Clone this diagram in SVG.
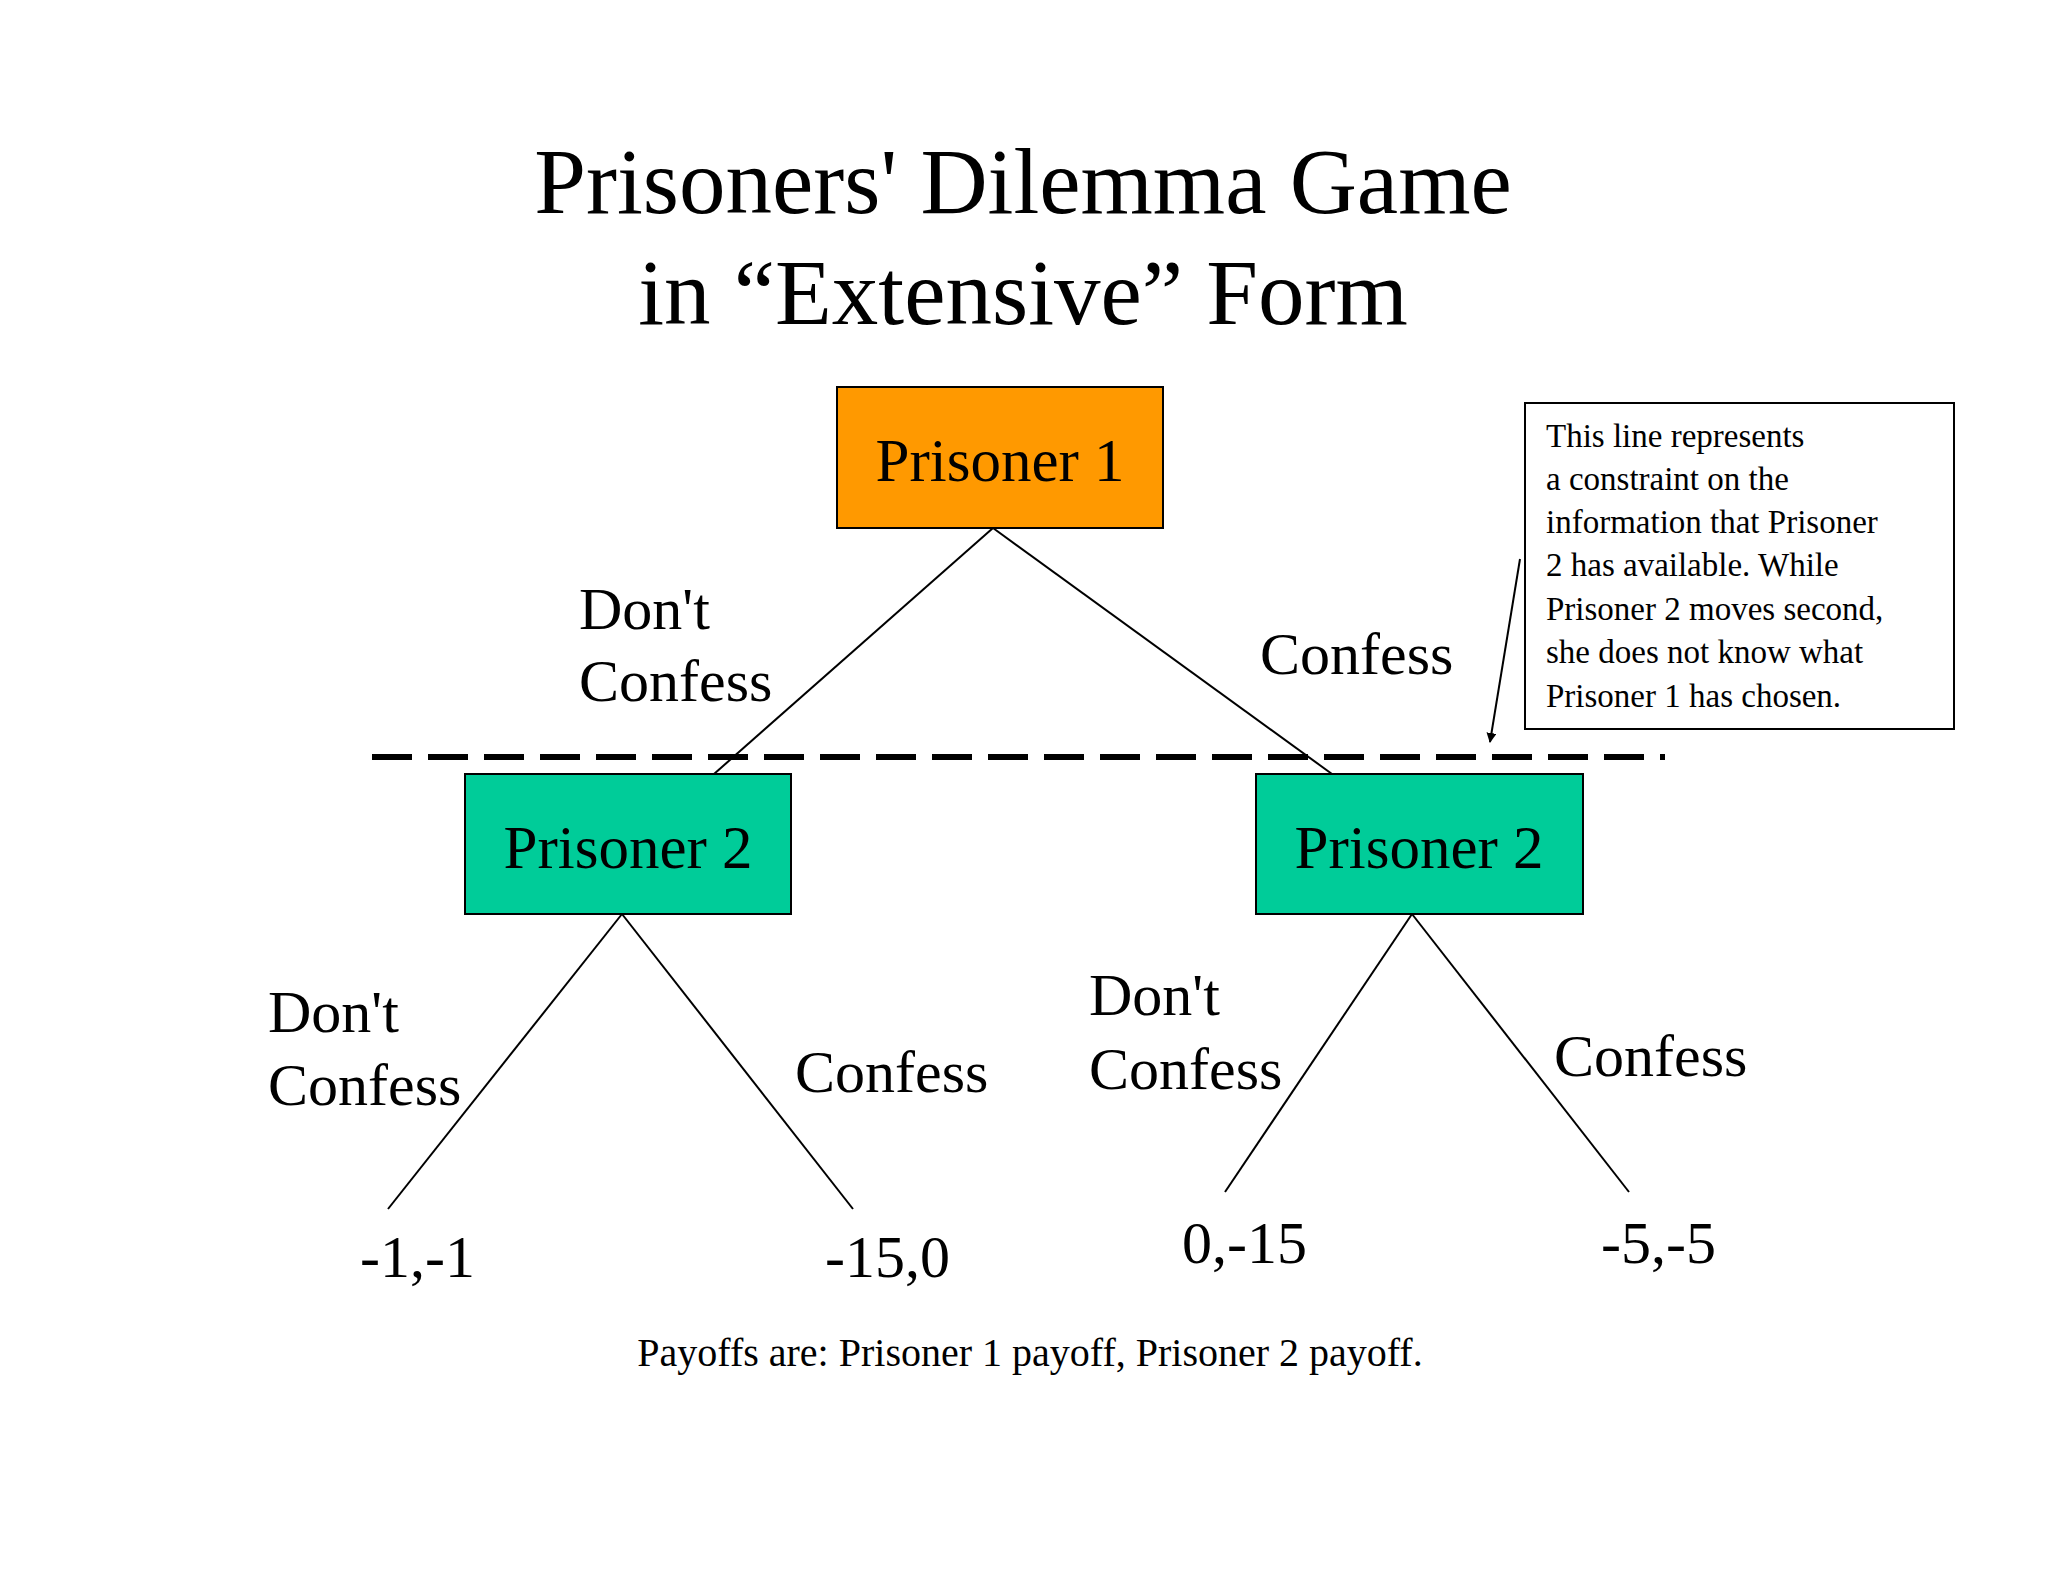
<svg xmlns="http://www.w3.org/2000/svg" width="2048" height="1582" viewBox="0 0 2048 1582">
<style>
text{font-family:"Liberation Serif","Times New Roman",serif;fill:#000}
.t{font-size:93px;text-anchor:middle}
.n{font-size:61px;text-anchor:middle}
.l{font-size:60px}
.p{font-size:60px}
.note{font-size:33px}
.e{stroke:#000;stroke-width:2;fill:none}
</style>
<defs><marker id="ah" markerWidth="10" markerHeight="10" refX="9" refY="5" orient="auto" markerUnits="userSpaceOnUse" viewBox="0 0 10 10"><path d="M0,0 L10,5 L0,10 z" fill="#000"/></marker></defs>
<rect width="2048" height="1582" fill="#fff"/>
<text class="t" x="1023" y="213">Prisoners' Dilemma Game</text>
<text class="t" x="1023" y="324">in “Extensive” Form</text>
<g id="connectors">
<line class="e" x1="993" y1="528" x2="714" y2="774"/>
<line class="e" x1="993" y1="528" x2="1332" y2="774"/>
<line class="e" x1="622" y1="914" x2="388" y2="1209"/>
<line class="e" x1="622" y1="914" x2="853" y2="1209"/>
<line class="e" x1="1412" y1="914" x2="1225" y2="1192"/>
<line class="e" x1="1412" y1="914" x2="1629" y2="1192"/>
<line x1="372" y1="757" x2="1665" y2="757" stroke="#000" stroke-width="6" stroke-dasharray="40 16"/>
<line x1="1520" y1="559" x2="1490" y2="742" stroke="#000" stroke-width="2" marker-end="url(#ah)"/>
</g>
<g id="p1"><rect x="837" y="387" width="326" height="141" fill="#FF9900" stroke="#000" stroke-width="2"/><text class="n" x="1000" y="481">Prisoner 1</text></g>
<g id="p2a"><rect x="465" y="774" width="326" height="140" fill="#00CC99" stroke="#000" stroke-width="2"/><text class="n" x="628" y="868">Prisoner 2</text></g>
<g id="p2b"><rect x="1256" y="774" width="327" height="140" fill="#00CC99" stroke="#000" stroke-width="2"/><text class="n" x="1419" y="868">Prisoner 2</text></g>
<g id="note"><rect x="1525" y="403" width="429" height="326" fill="#fff" stroke="#000" stroke-width="2"/>
<text class="note" x="1546" y="447">This line represents</text>
<text class="note" x="1546" y="490">a constraint on the</text>
<text class="note" x="1546" y="533">information that Prisoner</text>
<text class="note" x="1546" y="576">2 has available. While</text>
<text class="note" x="1546" y="620">Prisoner 2 moves second,</text>
<text class="note" x="1546" y="663">she does not know what</text>
<text class="note" x="1546" y="707">Prisoner 1 has chosen.</text></g>
<g id="labels">
<text class="l" x="579" y="629">Don't</text><text class="l" x="579" y="701">Confess</text>
<text class="l" x="1260" y="674">Confess</text>
<text class="l" x="268" y="1032">Don't</text><text class="l" x="268" y="1105">Confess</text>
<text class="l" x="795" y="1092">Confess</text>
<text class="l" x="1089" y="1015">Don't</text><text class="l" x="1089" y="1089">Confess</text>
<text class="l" x="1554" y="1076">Confess</text>
<text class="p" x="360" y="1277">-1,-1</text>
<text class="p" x="825" y="1277">-15,0</text>
<text class="p" x="1182" y="1263">0,-15</text>
<text class="p" x="1601" y="1263">-5,-5</text>
<text x="1030" y="1366" font-size="40" text-anchor="middle">Payoffs are: Prisoner 1 payoff, Prisoner 2 payoff.</text>
</g>
</svg>
